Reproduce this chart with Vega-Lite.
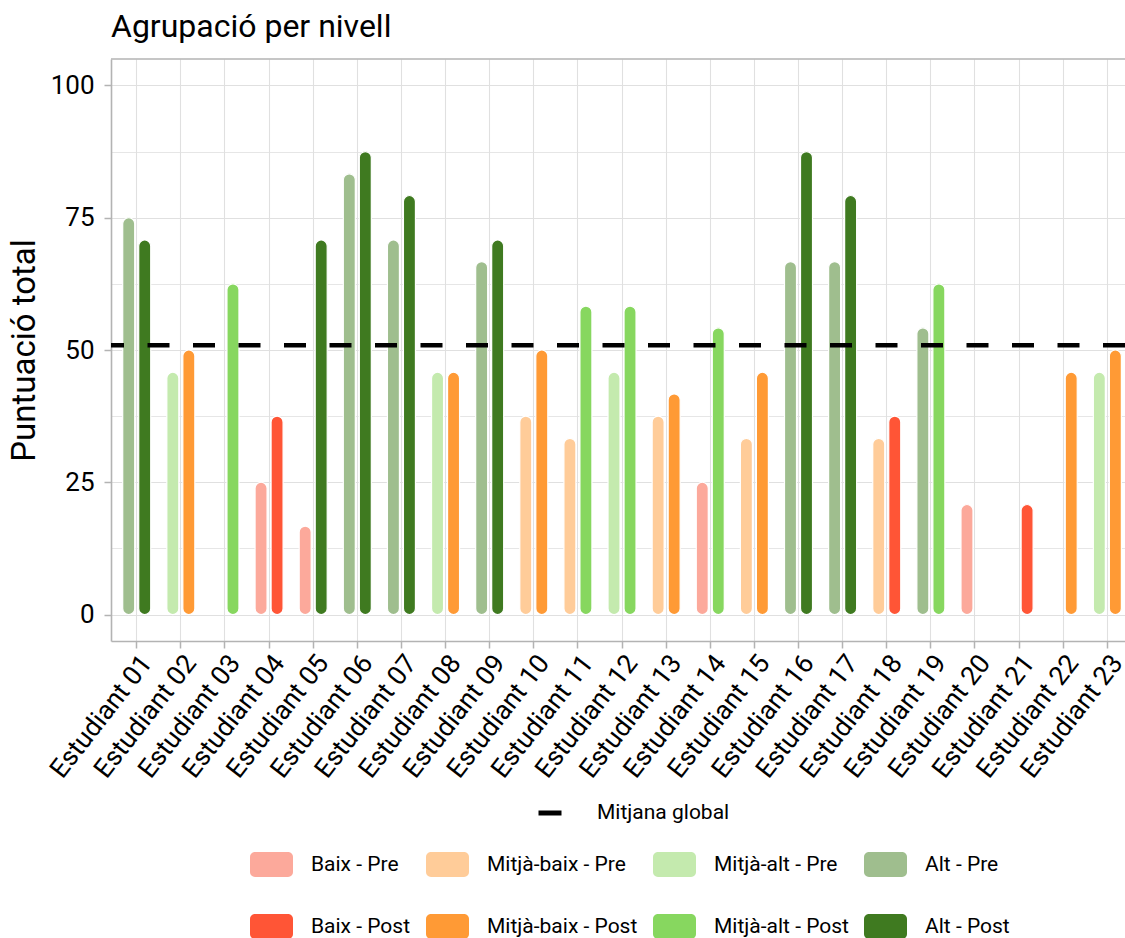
{
  "$schema": "https://vega.github.io/schema/vega-lite/v6.json",
  "autosize": "none",
  "width": 1014,
  "height": 582,
  "padding": {"left": 111, "top": 59, "right": 0, "bottom": 297},
  "background": "white",
  "title": {"text": "Agrupació per nivell", "anchor": "start", "frame": "group", "fontSize": 32, "font": "Roboto", "fontWeight": "normal", "color": "#000000", "baseline": "alphabetic", "offset": -11},
  "config": {
    "view": {"stroke": null},
    "font": "Roboto",
    "axisX": {
      "labelAngle": -52, "labelAlign": "right", "labelBaseline": "top", "labelFontSize": 26.5, "labelColor": "#000000", "labelPadding": 2, "labelOverlap": false, "labelLimit": 0,
      "tickSize": 7, "tickColor": "#b3b3b3", "tickWidth": 1.5, "bandPosition": 0.5,
      "grid": true, "gridColor": "#e0e0e0", "gridWidth": 1.1,
      "domainColor": "#b3b3b3", "domainWidth": 1.6
    },
    "axisY": {
      "labelFontSize": 26, "labelColor": "#000000", "labelPadding": 10,
      "tickSize": 7, "tickColor": "#b3b3b3", "tickWidth": 1.5,
      "grid": true, "gridColor": "#e0e0e0",
      "domainColor": "#b3b3b3", "domainWidth": 1.6,
      "titleFontSize": 33, "titleFontWeight": "normal", "titleColor": "#000000", "titlePadding": 9
    }
  },
  "datasets": {
    "puntuacions": [
      {"estudiant": "Estudiant 01", "fase": "Pre", "grup": "Alt - Pre", "puntuacio": 75.0},
      {"estudiant": "Estudiant 01", "fase": "Post", "grup": "Alt - Post", "puntuacio": 70.8},
      {"estudiant": "Estudiant 02", "fase": "Pre", "grup": "Mitjà-alt - Pre", "puntuacio": 45.8},
      {"estudiant": "Estudiant 02", "fase": "Post", "grup": "Mitjà-baix - Post", "puntuacio": 50.0},
      {"estudiant": "Estudiant 03", "fase": "Post", "grup": "Mitjà-alt - Post", "puntuacio": 62.5},
      {"estudiant": "Estudiant 04", "fase": "Pre", "grup": "Baix - Pre", "puntuacio": 25.0},
      {"estudiant": "Estudiant 04", "fase": "Post", "grup": "Baix - Post", "puntuacio": 37.5},
      {"estudiant": "Estudiant 05", "fase": "Pre", "grup": "Baix - Pre", "puntuacio": 16.7},
      {"estudiant": "Estudiant 05", "fase": "Post", "grup": "Alt - Post", "puntuacio": 70.8},
      {"estudiant": "Estudiant 06", "fase": "Pre", "grup": "Alt - Pre", "puntuacio": 83.3},
      {"estudiant": "Estudiant 06", "fase": "Post", "grup": "Alt - Post", "puntuacio": 87.5},
      {"estudiant": "Estudiant 07", "fase": "Pre", "grup": "Alt - Pre", "puntuacio": 70.8},
      {"estudiant": "Estudiant 07", "fase": "Post", "grup": "Alt - Post", "puntuacio": 79.2},
      {"estudiant": "Estudiant 08", "fase": "Pre", "grup": "Mitjà-alt - Pre", "puntuacio": 45.8},
      {"estudiant": "Estudiant 08", "fase": "Post", "grup": "Mitjà-baix - Post", "puntuacio": 45.8},
      {"estudiant": "Estudiant 09", "fase": "Pre", "grup": "Alt - Pre", "puntuacio": 66.7},
      {"estudiant": "Estudiant 09", "fase": "Post", "grup": "Alt - Post", "puntuacio": 70.8},
      {"estudiant": "Estudiant 10", "fase": "Pre", "grup": "Mitjà-baix - Pre", "puntuacio": 37.5},
      {"estudiant": "Estudiant 10", "fase": "Post", "grup": "Mitjà-baix - Post", "puntuacio": 50.0},
      {"estudiant": "Estudiant 11", "fase": "Pre", "grup": "Mitjà-baix - Pre", "puntuacio": 33.3},
      {"estudiant": "Estudiant 11", "fase": "Post", "grup": "Mitjà-alt - Post", "puntuacio": 58.3},
      {"estudiant": "Estudiant 12", "fase": "Pre", "grup": "Mitjà-alt - Pre", "puntuacio": 45.8},
      {"estudiant": "Estudiant 12", "fase": "Post", "grup": "Mitjà-alt - Post", "puntuacio": 58.3},
      {"estudiant": "Estudiant 13", "fase": "Pre", "grup": "Mitjà-baix - Pre", "puntuacio": 37.5},
      {"estudiant": "Estudiant 13", "fase": "Post", "grup": "Mitjà-baix - Post", "puntuacio": 41.7},
      {"estudiant": "Estudiant 14", "fase": "Pre", "grup": "Baix - Pre", "puntuacio": 25.0},
      {"estudiant": "Estudiant 14", "fase": "Post", "grup": "Mitjà-alt - Post", "puntuacio": 54.2},
      {"estudiant": "Estudiant 15", "fase": "Pre", "grup": "Mitjà-baix - Pre", "puntuacio": 33.3},
      {"estudiant": "Estudiant 15", "fase": "Post", "grup": "Mitjà-baix - Post", "puntuacio": 45.8},
      {"estudiant": "Estudiant 16", "fase": "Pre", "grup": "Alt - Pre", "puntuacio": 66.7},
      {"estudiant": "Estudiant 16", "fase": "Post", "grup": "Alt - Post", "puntuacio": 87.5},
      {"estudiant": "Estudiant 17", "fase": "Pre", "grup": "Alt - Pre", "puntuacio": 66.7},
      {"estudiant": "Estudiant 17", "fase": "Post", "grup": "Alt - Post", "puntuacio": 79.2},
      {"estudiant": "Estudiant 18", "fase": "Pre", "grup": "Mitjà-baix - Pre", "puntuacio": 33.3},
      {"estudiant": "Estudiant 18", "fase": "Post", "grup": "Baix - Post", "puntuacio": 37.5},
      {"estudiant": "Estudiant 19", "fase": "Pre", "grup": "Alt - Pre", "puntuacio": 54.2},
      {"estudiant": "Estudiant 19", "fase": "Post", "grup": "Mitjà-alt - Post", "puntuacio": 62.5},
      {"estudiant": "Estudiant 20", "fase": "Pre", "grup": "Baix - Pre", "puntuacio": 20.8},
      {"estudiant": "Estudiant 21", "fase": "Post", "grup": "Baix - Post", "puntuacio": 20.8},
      {"estudiant": "Estudiant 22", "fase": "Post", "grup": "Mitjà-baix - Post", "puntuacio": 45.8},
      {"estudiant": "Estudiant 23", "fase": "Pre", "grup": "Mitjà-alt - Pre", "puntuacio": 45.8},
      {"estudiant": "Estudiant 23", "fase": "Post", "grup": "Mitjà-baix - Post", "puntuacio": 50.0}
    ],
    "mitjana": [
      {"etiqueta": "Mitjana global", "valor": 50.9}
    ]
  },
  "layer": [
    {
      "data": {"name": "puntuacions"},
      "mark": {"type": "bar", "cornerRadius": 6, "stroke": "white", "strokeWidth": 1.2},
      "encoding": {
        "x": {
          "field": "estudiant", "type": "nominal", "title": null,
          "scale": {"paddingInner": 0.2744, "paddingOuter": 0.1287, "align": 0.855}
        },
        "xOffset": {
          "field": "fase", "type": "nominal",
          "scale": {"domain": ["Pre", "Post"], "paddingInner": 0.25, "paddingOuter": 0.125}
        },
        "y": {
          "field": "puntuacio", "type": "quantitative", "title": "Puntuació total",
          "scale": {"domain": [-5, 105], "nice": false, "zero": false},
          "axis": {
            "values": [0, 12.5, 25, 37.5, 50, 62.5, 75, 87.5, 100],
            "format": "d",
            "labelExpr": "datum.value % 25 === 0 ? datum.label : ''",
            "tickOpacity": {"condition": {"test": "datum.value % 25 !== 0", "value": 0}, "value": 1},
            "gridWidth": {"condition": {"test": "datum.value % 25 !== 0", "value": 0.8}, "value": 1.1}
          }
        },
        "y2": {"datum": 0},
        "fill": {
          "field": "grup", "type": "nominal",
          "scale": {
            "domain": ["Baix - Pre", "Mitjà-baix - Pre", "Mitjà-alt - Pre", "Alt - Pre", "Baix - Post", "Mitjà-baix - Post", "Mitjà-alt - Post", "Alt - Post"],
            "range": ["#fca99b", "#ffcc99", "#c4eaae", "#9fbe8e", "#ff5536", "#ff9a35", "#87d75f", "#3f7a20"]
          },
          "legend": {
            "orient": "none", "legendX": 139, "legendY": 784, "columns": 4, "direction": "horizontal", "title": null,
            "symbolType": "M-0.77,-0.58L0.77,-0.58A0.23,0.23 0 0 1 1,-0.35L1,0.35A0.23,0.23 0 0 1 0.77,0.58L-0.77,0.58A0.23,0.23 0 0 1 -1,0.35L-1,-0.35A0.23,0.23 0 0 1 -0.77,-0.58Z",
            "symbolSize": 1849, "symbolStrokeWidth": 0, "symbolOpacity": 1,
            "labelFontSize": 21, "labelFont": "Roboto", "labelColor": "#000000", "labelOffset": 18, "labelLimit": 300,
            "columnPadding": 15, "rowPadding": 28
          }
        }
      }
    },
    {
      "data": {"name": "mitjana"},
      "mark": {"type": "rule", "strokeWidth": 4.7, "strokeDash": [22, 23.5]},
      "encoding": {
        "y": {"field": "valor", "type": "quantitative", "title": "Puntuació total"},
        "stroke": {
          "field": "etiqueta", "type": "nominal",
          "scale": {"range": ["#000000"]},
          "legend": {
            "orient": "none", "legendX": 425, "legendY": 740, "title": null,
            "symbolType": "M-1,0L1,0", "symbolSize": 529, "symbolStrokeWidth": 5, "symbolDash": [60, 0],
            "labelFontSize": 21, "labelFont": "Roboto", "labelColor": "#000000", "labelOffset": 33
          }
        }
      }
    },
    {
      "data": {"values": [{}]},
      "mark": {"type": "rule", "stroke": "#b3b3b3", "strokeWidth": 1.6},
      "encoding": {"y": {"datum": 105}}
    }
  ]
}
